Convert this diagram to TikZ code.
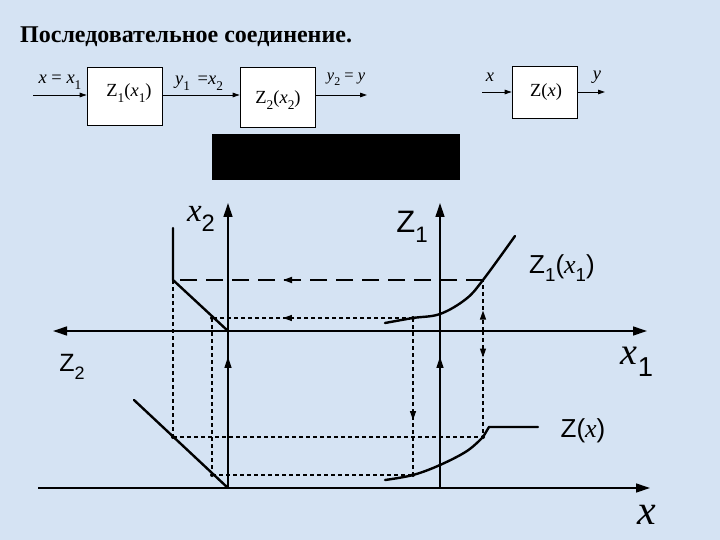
\documentclass[tikz,border=0pt]{standalone}
\usepackage{fontspec}
\setmainfont{Liberation Serif}
\newfontfamily\arialf{Liberation Sans}
\usetikzlibrary{arrows.meta,decorations.markings}
\definecolor{bgblue}{RGB}{213,227,243}
\newcommand\lsub[1]{\raisebox{-0.32em}{\scalebox{0.72}{#1}}}
\newcommand\gz[2]{{\fontsize{#1}{#1}\selectfont #2}}
\tikzset{
  axis/.style={line width=1.3pt, draw=black},
  tipA/.style={-{Triangle[length=14pt,width=9pt]}},
  curve/.style={line width=2.4pt, line cap=round, line join=round},
  sdash/.style={line width=1.3pt, dash pattern=on 4pt off 3pt},
  ldash/.style={line width=1.8pt, dash pattern=on 17pt off 9pt},
  midarrow/.style={postaction={decorate, decoration={markings,
      mark=at position #1 with {\arrow{Triangle[length=9pt,width=6pt]}}}}},
  midarrowax/.style={postaction={decorate, decoration={markings,
      mark=at position #1 with {\arrow{Triangle[length=11pt,width=7pt]}}}}},
  blk/.style={draw=black, fill=white, line width=0.6pt, inner sep=0pt},
  barrow/.style={line width=0.8pt, -{Triangle[length=7pt,width=4.5pt]}},
  btxt/.style={font=\fontsize{18.5}{18.5}\selectfont, inner sep=0pt},
  dotm/.style={circle, fill=black, inner sep=0pt, minimum size=4pt},
  glab/.style={inner sep=0pt},
}
\begin{document}
\begin{tikzpicture}[x=1pt,y=-1pt]
\fill[bgblue] (0,0) rectangle (720,540);
\useasboundingbox (0,0) rectangle (720,540);

% title
\node[anchor=base west, inner sep=0pt, font=\fontsize{24}{24}\selectfont\bfseries] (title) at (20,43) {Последовательное соединение.};

% block diagram (series)
\node[blk, minimum width=75pt, minimum height=58pt] (z1) at (124.5,96) {};
\node[btxt] (z1t) at (129,93) {Z\lsub{1}(\textit{x}\lsub{1})};
\node[blk, minimum width=75pt, minimum height=60pt] (z2) at (277.5,97) {};
\node[btxt] (z2t) at (278,100) {Z\lsub{2}(\textit{x}\lsub{2})};
\coordinate (bin) at (33,95);
\coordinate (bout) at (367,95);
\draw[barrow] (bin) -- (bin -| z1.west);
\draw[barrow] (z1.east |- bin) -- (z2.west |- bin);
\draw[barrow] (z2.east |- bin) -- (bout);
\node[btxt] (l1) at (60,82) {\textit{x} = \textit{x}\lsub{1}};
\node[btxt] (l2) at (199,83) {\textit{y}\lsub{1} \,=\textit{x}\lsub{2}};
\node[btxt, font=\fontsize{16.5}{16.5}\selectfont] (l3) at (346,79) {\textit{y}\lsub{2} = \textit{y}};

% block diagram (equivalent)
\node[blk, minimum width=65pt, minimum height=52pt] (zz) at (544.5,92) {};
\node[btxt] (zzt) at (546,92) {Z(\textit{x})};
\coordinate (ein) at (482,92);
\coordinate (eout) at (605,92);
\draw[barrow] (ein) -- (zz.west);
\draw[barrow] (zz.east) -- (eout);
\node[btxt] (lx) at (490,77) {\textit{x}};
\node[btxt] (ly) at (597,77) {\textit{y}};

% black rectangle
\fill[black] (212,134) rectangle (460,180);

% axes
\coordinate (axL) at (53,331);
\coordinate (axR) at (647,331);
\coordinate (bxL) at (38,488);
\coordinate (bxR) at (650,488);
\coordinate (v1b) at (228,488);
\coordinate (v1t) at (228,203);
\coordinate (v2b) at (440,488);
\coordinate (v2t) at (440,203);
\draw[axis, {Triangle[length=14pt,width=9pt]}-{Triangle[length=14pt,width=9pt]}] (axL) -- (axR);
\draw[axis, tipA] (bxL) -- (bxR);
\draw[axis, tipA, midarrowax=0.46] (v1b) -- (v1t);
\draw[axis, tipA, midarrowax=0.46] (v2b) -- (v2t);

% key points
\coordinate (P1) at (483,280);
\coordinate (Q1) at (173,280);
\coordinate (R1) at (173,437);
\coordinate (S1) at (483,437);
\coordinate (A1) at (483,331);
\coordinate (P2) at (413,318);
\coordinate (Q2) at (212,318);
\coordinate (R2) at (212,475);
\coordinate (S2) at (413,475);

% dashed projection lines
\draw[ldash, midarrow=0.645] (P1) -- (Q1);
\draw[sdash] (Q1) -- (R1);
\draw[sdash] (R1) -- (S1);
\draw[sdash, midarrow=0.4] (A1) -- (P1);
\draw[sdash, midarrow=0.25] (A1) -- (S1);
\draw[sdash, midarrow=0.647] (P2) -- (Q2);
\draw[sdash] (Q2) -- (R2);
\draw[sdash] (R2) -- (S2);
\draw[sdash, midarrow=0.65] (P2) -- (S2);

% curves
\draw[curve] plot[smooth, tension=0.6] coordinates {(385,323) (P2) (440,314) (466,299) (P1) (515,236)};
\draw[curve] (173,228) -- (Q1) -- (228,331);
\draw[curve] (134,400) -- (v1b);
\draw[curve] plot[smooth, tension=0.6] coordinates {(385,480) (S2) (440,465) (467,451) (S1)} -- (489,427) -- (538,427);

% dots
\foreach \p in {P2,Q2,R1,R2,S2,S1} \node[dotm] at (\p) {};

% graph labels
\node[glab] (lx2) at (201,219) {\gz{33}{\textit{x}\lsub{\arialf 2}}};
\node[glab] (lz1) at (412,227) {\gz{31}{\arialf Z\lsub{1}}};
\node[glab] (lz1x) at (562,268) {\gz{26}{\arialf Z\lsub{1}(\textrm{\textit{x}}\lsub{1})}};
\node[glab] (lx1) at (637,362) {\gz{38}{\textit{x}\lsub{\arialf 1}}};
\node[glab] (lz2) at (72,367) {\gz{25}{\arialf Z\lsub{2}}};
\node[glab] (lzx) at (583,431) {\gz{26}{\arialf Z(\textrm{\textit{x}})}};
\node[glab] (lxb) at (647,515) {\gz{42}{\textit{x}}};
\end{tikzpicture}
\end{document}
